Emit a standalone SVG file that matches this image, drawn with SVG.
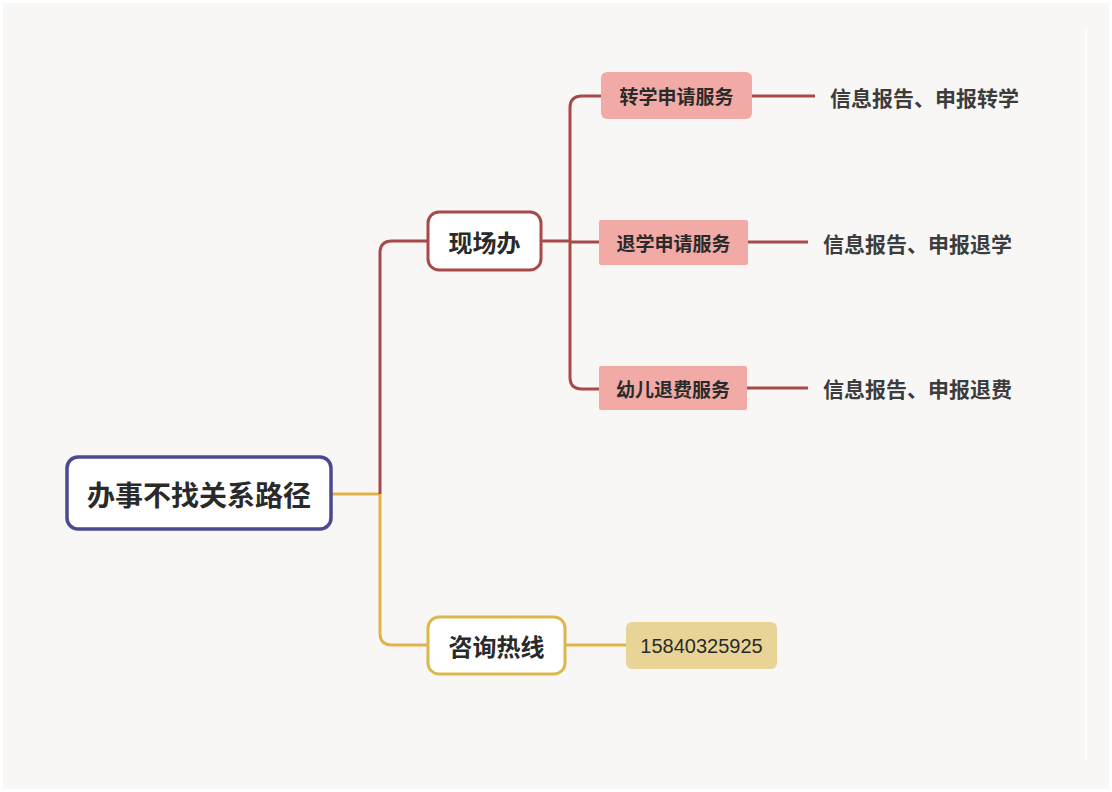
<svg xmlns="http://www.w3.org/2000/svg" width="1112" height="792" viewBox="0 0 1112 792">
<style>
.bg{fill:#f8f7f5}
.red{fill:none;stroke:#a94848;stroke-width:3}
.yel{fill:none;stroke:#dfb548;stroke-width:3}
.t{font-family:"Noto Sans CJK SC","Noto Sans",sans-serif;fill:#2a2a2a;text-anchor:middle;dominant-baseline:central}
.b{font-weight:bold}
.pink{fill:#f1aaa6}
.leaf{font-family:"Noto Sans CJK SC","Noto Sans",sans-serif;fill:#3c3c3c;font-size:21px;font-weight:bold;dominant-baseline:central}
</style>
<rect x="0" y="0" width="1112" height="792" fill="#ffffff"/>
<rect class="bg" x="3" y="3" width="1106" height="786"/>
<line x1="1086" y1="30" x2="1086" y2="760" stroke="#ffffff" stroke-width="2"/>
<g id="connectors">
<path class="yel" d="M331,494 H380"/>
<path class="red" d="M380,494 V253 Q380,241 392,241 H428"/>
<path class="yel" d="M380,494 V633 Q380,645 392,645 H428"/>
<path class="red" d="M541,241 H570"/>
<path class="red" d="M570,108 Q570,96 582,96 H601"/>
<path class="red" d="M570,108 V377 Q570,389 582,389 H599"/>
<path class="red" d="M570,242 H599"/>
<path class="red" d="M752,96 H815"/>
<path class="red" d="M748,242 H808"/>
<path class="red" d="M747,388 H808"/>
<path class="yel" d="M565,645 H626"/>
</g>
<g id="root">
<rect x="67" y="457" width="264" height="72" rx="11" fill="#ffffff" stroke="#4b4a8e" stroke-width="3.5"/>
<text class="t b" x="199" y="494" font-size="28">办事不找关系路径</text>
</g>
<g id="xianchang">
<rect x="428" y="212" width="113" height="58" rx="11" fill="#ffffff" stroke="#a94848" stroke-width="3"/>
<text class="t b" x="484.5" y="241" font-size="24">现场办</text>
</g>
<g id="zhuanxue">
<rect class="pink" x="601" y="72" width="151" height="47" rx="6"/>
<text class="t b" x="676.5" y="95.5" font-size="19">转学申请服务</text>
</g>
<g id="zhuanxue-leaf">
<text class="leaf" x="830" y="97">信息报告、申报转学</text>
</g>
<g id="tuixue">
<rect class="pink" x="599" y="220" width="149" height="45" rx="2"/>
<text class="t b" x="673.5" y="242.5" font-size="19">退学申请服务</text>
</g>
<g id="tuixue-leaf">
<text class="leaf" x="823" y="243">信息报告、申报退学</text>
</g>
<g id="tuifei">
<rect class="pink" x="599" y="366" width="148" height="44" rx="2"/>
<text class="t b" x="673" y="388" font-size="19">幼儿退费服务</text>
</g>
<g id="tuifei-leaf">
<text class="leaf" x="823" y="388">信息报告、申报退费</text>
</g>
<g id="rexian">
<rect x="428" y="617" width="137" height="57" rx="11" fill="#ffffff" stroke="#dcb84c" stroke-width="3"/>
<text class="t b" x="496.5" y="645.5" font-size="24">咨询热线</text>
</g>
<g id="phone">
<rect x="626" y="622" width="151" height="47" rx="6" fill="#e9d497"/>
<text class="t" x="701.5" y="645.5" font-size="20" style="font-family:'Liberation Sans',sans-serif">15840325925</text>
</g>
</svg>
